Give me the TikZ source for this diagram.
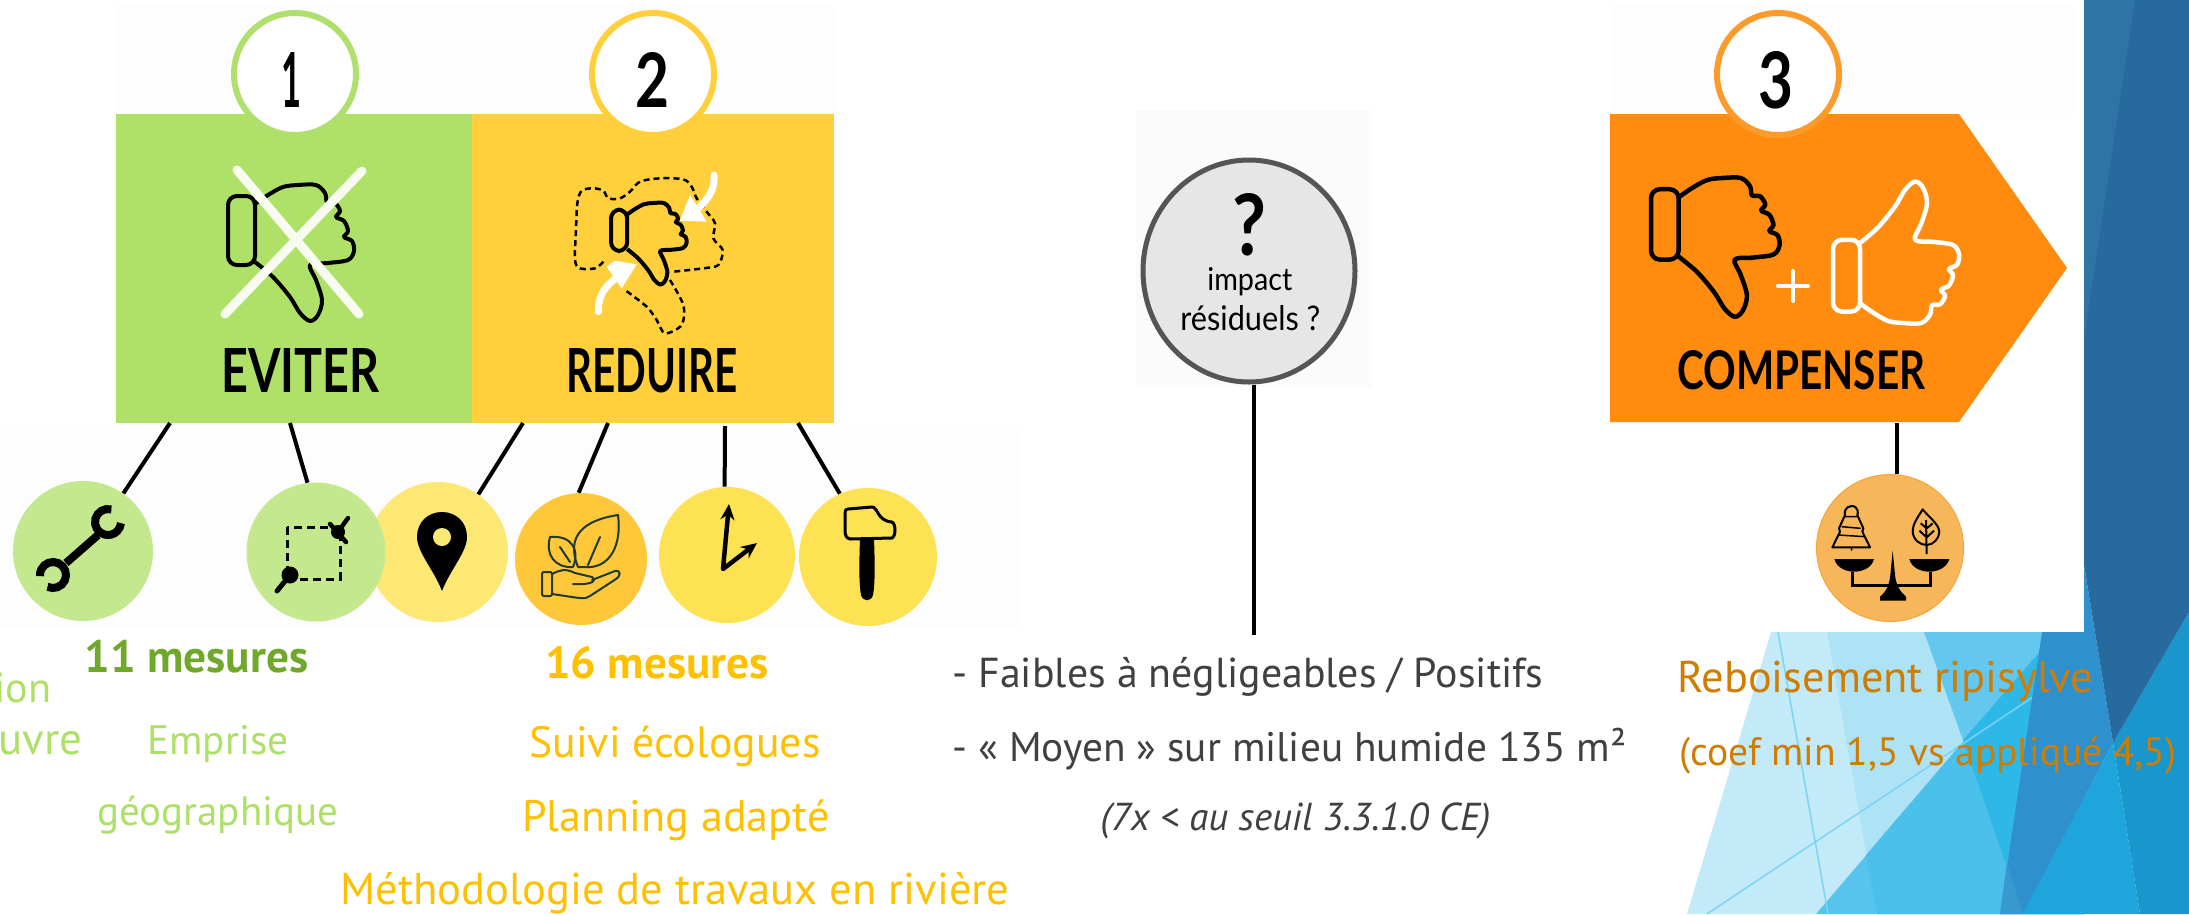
\documentclass[tikz,border=0pt]{standalone}
\usepackage{fontspec}
\usepackage{graphicx}
\setmainfont{PT Sans}
\newfontfamily\handfont{Lato}
\usetikzlibrary{arrows.meta,shapes.geometric}
\newlength\pxu \setlength\pxu{0.02cm}
\definecolor{gbox}{HTML}{AFE068}
\definecolor{ybox}{HTML}{FFD03C}
\definecolor{obox}{HTML}{FF8C0E}
\definecolor{gdisc}{HTML}{C3E88D}
\definecolor{ydisc}{HTML}{FDE873}
\definecolor{ydiscb}{HTML}{FDE254}
\definecolor{odisc}{HTML}{FFC83A}
\definecolor{cdisc}{HTML}{F8B65A}
\definecolor{gtext}{HTML}{AEE067}
\definecolor{gdark}{HTML}{70A82C}
\definecolor{ytext}{HTML}{FFC000}
\definecolor{otext}{HTML}{D07C00}
\definecolor{gtextb}{HTML}{404040}
\definecolor{leafc}{HTML}{1F3A2D}
\newcommand\ringarc[5]{([shift={(#3:#5)}]#1,#2) arc[start angle=#3,end angle=#4,radius=#5]}
\newcommand\thumbshape{
  \draw[rounded corners=9\pxu] (0,11) rectangle (27,80);
  \draw[line join=round] plot[smooth,tension=.55] coordinates {(27,19) (40,10) (55,2) (70,0) (88,0) (97,8) (99,17) (107,18) (112,26) (108,32) (116,36) (120,46) (116,52) (124,56) (126,66) (120,75) (100,78) (82,80) (88,95) (94,115) (90,130) (82,136) (72,128) (62,112) (45,92) (27,77)};
}
\tikzset{
  disc/.style={circle,minimum size=#1*\pxu,inner sep=0,draw=none},
  ring/.style={circle,fill=white,minimum size=122\pxu,inner sep=0,line width=6\pxu},
  link/.style={line width=4\pxu,black},
  lbl/.style={anchor=base west,inner sep=0},
  iconline/.style={black,line width=3\pxu,line cap=round,line join=round},
}
\begin{document}
\begin{tikzpicture}[x=\pxu,y=-\pxu]
\useasboundingbox (0,0) rectangle (2189,914);
\fill[white] (0,0) rectangle (2189,914);
% slide background
\fill[fill={rgb,255:red,195;green,234;blue,249}] (1771,632) -- (2084,632) -- (2084,914) -- (1687,914) -- cycle;
\fill[fill={rgb,255:red,174;green,227;blue,246}] (1827,632) -- (2084,632) -- (2084,914) -- (1877,914) -- cycle;
\fill[fill={rgb,255:red,100;green,200;blue,238}] (1924,632) -- (2057,632) -- (1963,740) -- cycle;
\fill[fill={rgb,255:red,86;green,196;blue,236}] (2057,632) -- (2084,632) -- (2084,914) -- (1816,914) -- cycle;
\fill[fill={rgb,255:red,75;green,192;blue,234}] (1866,855) -- (2057,632) -- (2084,632) -- (2084,914) -- (1877,914) -- cycle;
\fill[fill={rgb,255:red,46;green,184;blue,232}] (1963,740) -- (2057,632) -- (2084,632) -- (2084,914) -- (2023,914) -- cycle;
\draw[line width=1.5\pxu,color={rgb,255:red,124;green,211;blue,243}] (1778,632) -- (1828,914);
\draw[line width=1.5\pxu,color={rgb,255:red,124;green,211;blue,243}] (1707,914) -- (2033,697);
\fill[fill={rgb,255:red,46;green,144;blue,204}] (2042,632) -- (2084,600) -- (2084,565) -- (2113,743) -- (2023,914) -- (2000,914) -- cycle;
\fill[fill={rgb,255:red,56;green,152;blue,208}] (2007,863) -- (2023,914) -- (2000,914) -- cycle;
\fill[fill={rgb,255:red,29;green,165;blue,220}] (2113,743) -- (2140,914) -- (2023,914) -- cycle;
\fill[fill={rgb,255:red,25;green,150;blue,204}] (2189,612) -- (2189,914) -- (2140,914) -- (2113,743) -- cycle;
\fill[fill={rgb,255:red,39;green,106;blue,158}] (2084,0) -- (2189,0) -- (2189,612) -- (2113,743) -- (2084,565) -- cycle;
\fill[fill={rgb,255:red,46;green,117;blue,165}] (2084,0) -- (2135,0) -- (2084,339) -- cycle;
% picture panels
\fill[white] (1610,0) rectangle (2084,632);
\fill[fill={rgb,255:red,253;green,253;blue,253}] (116,5) rectangle (834,114);
\fill[fill={rgb,255:red,253;green,253;blue,253}] (0,425) rectangle (1022,628);
\fill[fill={rgb,255:red,251;green,251;blue,251}] (1136,110) rectangle (1372,387);
\fill[fill={rgb,255:red,253;green,253;blue,253}] (1610,5) rectangle (2075,114);
% boxes
\node[rectangle,fill=gbox,inner sep=0,minimum width=356\pxu,minimum height=309\pxu,anchor=north west] (evbox) at (116,114) {};
\node[rectangle,fill=ybox,inner sep=0,minimum width=362\pxu,minimum height=309\pxu,anchor=north west] (rebox) at (472,114) {};
\fill[obox] (1610,114) -- (1959,114) -- (2067,268) -- (1959,422) -- (1610,422) -- cycle;
\coordinate (cpbox) at (1897,423);
% number rings
\node[ring,draw={rgb,255:red,175;green,224;blue,110}] (n1) at (295,74) {};
\node[ring,draw={rgb,255:red,255;green,208;blue,60}] (n2) at (653,74) {};
\node[ring,draw={rgb,255:red,250;green,155;blue,44}] (n3) at (1778,74) {};
\node[inner sep=0] (n1t) at (291,80) {\resizebox{20\pxu}{55\pxu}{\handfont\bfseries 1}};
\node[inner sep=0] (n2t) at (652,80) {\resizebox{34\pxu}{55\pxu}{\handfont\bfseries 2}};
\node[inner sep=0] (n3t) at (1776,80) {\resizebox{35\pxu}{57\pxu}{\handfont\bfseries 3}};
% box titles
\node[lbl] (ev) at (221,392) {\resizebox{158\pxu}{44\pxu}{\handfont\bfseries EVITER}};
\node[lbl] (re) at (566,392) {\resizebox{171\pxu}{44\pxu}{\handfont\bfseries REDUIRE}};
\node[lbl] (cp) at (1677,389) {\resizebox{248\pxu}{39\pxu}{\handfont\bfseries COMPENSER}};
% thumbs
\begin{scope}[shift={(228,185)},black,line width=4\pxu]\thumbshape\end{scope}
\draw[line width=9\pxu,line cap=round,color={rgb,255:red,248;green,252;blue,240}] (237,170) -- (359,314) (362,171) -- (225,314);
\begin{scope}[shift={(611,203)},scale=.6,black,line width=4\pxu]\thumbshape\end{scope}
\begin{scope}[shift={(1651,178)},scale=1.02,black,line width=4.5\pxu]\thumbshape\end{scope}
\begin{scope}[shift={(1833,323)},yscale=-1.04,white,line width=4.5\pxu]\thumbshape\end{scope}
\draw[white,line width=4\pxu,line cap=round] (1778,286) -- (1808,286) (1793,271) -- (1793,301);
% reduire decorations
\begin{scope}[shift={(540,170)},scale=1/3]
  \draw[black,line width=2.5\pxu,dash pattern=on 6\pxu off 4\pxu] plot[smooth,tension=.5] coordinates {(190,275) (165,295) (120,295) (105,270) (108,180) (112,100) (125,62) (160,55) (190,62) (205,85) (240,85) (270,65) (300,35) (360,25) (430,28) (455,50) (470,85) (500,125) (525,160) (520,205) (548,240) (535,285) (490,295) (400,305)};
  \draw[black,line width=2.5\pxu,dash pattern=on 6\pxu off 4\pxu] plot[smooth,tension=.5] coordinates {(390,330) (430,405) (425,465) (375,490) (350,450) (320,410) (255,360)};
  \draw[white,line width=7\pxu,line cap=round] (522,15) .. controls (525,60) and (505,85) .. (475,115);
  \fill[white] (450,75) -- (420,152) -- (500,155) -- cycle;
  \draw[white,line width=7\pxu,line cap=round] (175,425) .. controls (175,380) and (190,350) .. (235,320);
  \fill[white] (225,272) -- (290,283) -- (245,355) -- (200,290) -- cycle;
\end{scope}
% measure discs
\node[disc=140,fill=ydisc] (c3) at (438,552) {};
\node[disc=140,fill=gdisc] (c1) at (83,551) {};
\node[disc=139,fill=gdisc] (c2) at (316,552) {};
\node[disc=132,fill=odisc] (c4) at (581,559) {};
\node[disc=136,fill=ydiscb] (c5) at (727,555) {};
\node[disc=138,fill=ydiscb] (c6) at (868,557) {};
\node[disc=147,fill=cdisc,draw={rgb,255:red,245;green,166;blue,58},line width=1\pxu] (c7) at (1890,548) {};
% connectors
\coordinate (e1) at (170,423); \coordinate (e2) at (290,423);
\coordinate (r1) at (523,423); \coordinate (r2) at (608,423); \coordinate (r3) at (725,426); \coordinate (r4) at (798,423);
\draw[link] (e1) -- (c1.55);
\draw[link] (e2) -- (c2.97);
\draw[link] (r1) -- (c3.55);
\draw[link] (r2) -- (c4.92);
\draw[link] (r3) -- (c5.92);
\draw[link] (r4) -- (c6.114);
\draw[link] (cpbox) -- (cpbox |- c7.north);
% wrench
\draw[black,line width=8\pxu] \ringarc{108}{522}{-75}{-355}{13};
\draw[black,line width=8\pxu] \ringarc{53}{575}{-245}{-545}{13};
\draw[black,line width=8\pxu] (66,563) -- (98,535);
% dashed area
\draw[black,line width=3\pxu,dash pattern=on 8\pxu off 5\pxu] (287,527) rectangle (340,579);
\fill[black] (338,532) circle[radius=7];
\draw[black,line width=4.5\pxu,line cap=round] (330,524) -- (346,542) (338,532) -- (348,518);
\fill[black] (290,575) circle[radius=8.5];
\draw[black,line width=5\pxu,line cap=round] (290,575) -- (277,591);
% pin
\fill[black] (442,591) .. controls (434,570) and (417,552) .. (417,537) .. controls (417,522) and (428,512) .. (442,512) .. controls (456,512) and (467,522) .. (467,537) .. controls (467,552) and (450,570) .. (442,591) -- cycle;
\fill[ydisc] (442,537) circle[radius=9];
% plant in hand
\begin{scope}[draw=leafc,line width=2\pxu,line join=round,line cap=round]
\draw (578,567) .. controls (565,535) and (585,520) .. (618,515) .. controls (622,545) and (610,570) .. (583,567) -- cycle;
\draw (588,565) -- (600,537);
\draw (550,537) .. controls (572,535) and (580,550) .. (573,567) .. controls (555,568) and (545,555) .. (550,537) -- cycle;
\draw (560,547) -- (570,562);
\draw[rounded corners=2\pxu] (542,572) rectangle (552,596);
\draw (552,574) .. controls (560,570) and (565,568) .. (575,573) -- (592,577) .. controls (597,581) and (592,585) .. (573,584);
\draw (592,580) -- (615,571) .. controls (622,570) and (620,577) .. (616,579) -- (590,596) .. controls (585,600) and (580,598) .. (552,594);
\end{scope}
% clock
\draw[black,line width=4.5\pxu,line join=round,{Stealth[length=9pt,width=8pt]}-{Stealth[length=9pt,width=8pt]}] (729,504) -- (723,569) -- (757,543);
% hammer
\draw[iconline] (848,509) -- (872,507) .. controls (878,507) and (877,521) .. (892,522) .. controls (896,524) and (896,536) .. (892,538) -- (850,539) .. controls (846,538) and (845,535) .. (845,530) -- (845,513) .. controls (845,510) and (846,509) .. (848,509) -- cycle;
\fill[black] (860,539) -- (874,539) .. controls (875,565) and (875,585) .. (873,595) .. controls (871,602) and (863,602) .. (861,595) .. controls (859,585) and (859,565) .. (860,539) -- cycle;
% balance
\begin{scope}[shift={(1800,460)},scale=1/3]
  \fill[black] (103,297) -- (222,297) .. controls (215,325) and (185,335) .. (162,335) .. controls (140,335) and (110,325) .. (103,297) -- cycle;
  \fill[black] (328,297) -- (448,297) .. controls (440,325) and (410,335) .. (388,335) .. controls (365,335) and (335,325) .. (328,297) -- cycle;
  \draw[black,line width=3\pxu] (158,335) -- (158,375) -- (390,375) -- (390,335);
  \fill[black] (278,272) -- (285,345) .. controls (288,375) and (300,395) .. (318,410) -- (318,422) -- (240,422) -- (240,410) .. controls (258,395) and (268,375) .. (271,345) -- cycle;
  \draw[black,line width=2\pxu,line join=round] (155,138) .. controls (175,138) and (175,160) .. (172,165) -- (190,205) -- (187,215) -- (210,262) -- (97,262) -- (120,215) -- (117,205) -- (135,165) .. controls (132,160) and (135,138) .. (155,138) -- cycle;
  \draw[black,line width=1.5\pxu] (135,170) -- (172,170) (125,200) -- (182,205) (115,225) -- (195,230) (155,262) -- (155,272);
  \draw[black,line width=2\pxu,line join=round] (368,148) .. controls (355,170) and (338,190) .. (338,215) .. controls (340,240) and (360,255) .. (380,255) .. controls (400,255) and (418,235) .. (418,215) .. controls (415,190) and (385,170) .. (368,148) -- cycle;
  \draw[black,line width=2\pxu] (378,180) -- (380,282) (380,205) -- (362,190) (380,205) -- (398,190) (380,232) -- (358,212) (380,232) -- (402,212);
\end{scope}
% question disc
\node[ellipse,fill={rgb,255:red,230;green,230;blue,230},draw={rgb,255:red,85;green,85;blue,85},line width=5\pxu,minimum width=212\pxu,minimum height=222\pxu,inner sep=0] (q) at (1249,271) {};
\node[lbl] (qm) at (1232,255) {\resizebox{34\pxu}{62\pxu}{\handfont\bfseries ?}};
\node[lbl] (q1) at (1207,290) {\resizebox{85\pxu}{23\pxu}{\handfont impact}};
\node[lbl] (q2) at (1180,330) {\resizebox{140\pxu}{25\pxu}{\handfont résiduels ?}};
\coordinate (qe) at (1254,635);
\draw[link] (qe |- q.south) -- (qe);
% texts
\node[lbl,text=gdark] (t1) at (84,672) {\resizebox{224\pxu}{!}{\bfseries 11 mesures}};
\node[lbl,text=ytext] (t2) at (545,678) {\resizebox{223\pxu}{!}{\bfseries 16 mesures}};
\node[lbl,text=gtext] (t3) at (-6,702) {\resizebox{57\pxu}{!}{ion}};
\node[lbl,text=gtext] (t4) at (-2,754) {\resizebox{84\pxu}{!}{uvre}};
\node[lbl,text=gtext] (t5) at (147,754) {\resizebox{141\pxu}{!}{Emprise}};
\node[lbl,text=gtext] (t6) at (97,825) {\resizebox{241\pxu}{!}{géographique}};
\node[lbl,text=ytext] (t7) at (529,757) {\resizebox{291\pxu}{!}{Suivi écologues}};
\node[lbl,text=ytext] (t8) at (522,831) {\resizebox{307\pxu}{!}{Planning adapté}};
\node[lbl,text=ytext] (t9) at (340,904) {\resizebox{669\pxu}{!}{Méthodologie de travaux en rivière}};
\node[lbl,text=gtextb] (t10) at (952,687) {\resizebox{591\pxu}{!}{- Faibles à négligeables / Positifs}};
\node[lbl,text=gtextb] (t11) at (952,761) {\resizebox{674\pxu}{!}{- « Moyen » sur milieu humide 135 m²}};
\node[lbl,text=gtextb] (t12) at (1100,830) {\resizebox{390\pxu}{!}{\itshape (7x < au seuil 3.3.1.0 CE)}};
\node[lbl,text=otext] (t13) at (1677,692) {\resizebox{416\pxu}{!}{Reboisement ripisylve}};
\node[lbl,text=otext] (t14) at (1679,765) {\resizebox{497\pxu}{!}{(coef min 1,5 vs appliqué 4,5)}};
\end{tikzpicture}
\end{document}
